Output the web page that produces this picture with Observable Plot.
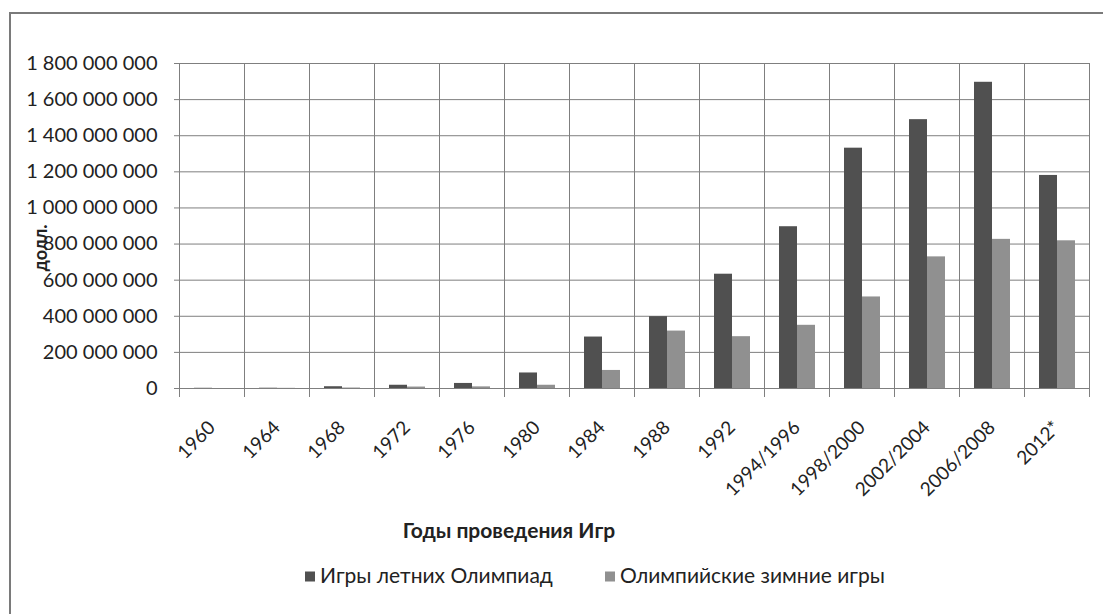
<!DOCTYPE html>
<html>
<head>
<meta charset="utf-8">
<script src="https://cdn.jsdelivr.net/npm/d3@7"></script>
<script src="https://cdn.jsdelivr.net/npm/@observablehq/plot@0.6"></script>
<style>
  html, body { margin: 0; padding: 0; background: #fff; }
  #wrap { position: relative; width: 1103px; height: 614px; overflow: hidden; font-family: Lato, "Open Sans", sans-serif; color: #222; }
  #border { position: absolute; left: 9px; top: 12px; width: 1200px; height: 700px; border-left: 2px solid #7a7a7a; border-top: 2px solid #7a7a7a; }
  #chart { position: absolute; left: 0; top: 0; }
  #ylabel { position: absolute; left: 40px; top: 248px; transform: translate(-50%, -50%) rotate(-90deg); font-weight: bold; font-size: 18px; white-space: nowrap; }
  #xtitle { position: absolute; left: 509px; top: 529px; transform: translate(-50%, -50%); font-weight: bold; font-size: 21px; white-space: nowrap; }
  .leg { position: absolute; top: 574px; transform: translateY(-50%); font-size: 21px; white-space: nowrap; display: flex; align-items: center; }
  .sw { display: inline-block; width: 10px; height: 10px; margin-right: 5px; margin-top: 4px; }
</style>
</head>
<body>
<div id="wrap">
  <div id="border"></div>
  <div id="chart"></div>
  <div id="ylabel"></div>
  <div id="xtitle"></div>
  <div id="leg1" class="leg" style="left:305px"></div>
  <div id="leg2" class="leg" style="left:605px"></div>
</div>
<script>
// Categories (years of the Games)
const categories = ["1960", "1964", "1968", "1972", "1976", "1980", "1984", "1988", "1992", "1994/1996", "1998/2000", "2002/2004", "2006/2008", "2012*"];
// Series names
const seriesNames = ["Игры летних Олимпиад", "Олимпийские зимние игры"];
// Values, USD
const summerValues = [1200000, 1600000, 9800000, 18000000, 28000000, 86000000, 285000000, 398000000, 633000000, 896000000, 1331000000, 1489000000, 1696000000, 1180000000];
const winterValues = [50000, 900000, 2600000, 8000000, 9000000, 18000000, 100000000, 318000000, 287000000, 350000000, 507000000, 729000000, 826000000, 818000000];
// Y tick values
const yTicks = [0, 200000000, 400000000, 600000000, 800000000, 1000000000, 1200000000, 1400000000, 1600000000, 1800000000];
const seriesColors = ["#505050", "#909090"];
const yTitle = "долл.";
const xTitle = "Годы проведения Игр";

const data = [];
categories.forEach((c, i) => {
  data.push({cat: c, series: seriesNames[0], value: summerValues[i]});
  data.push({cat: c, series: seriesNames[1], value: winterValues[i]});
});

const fmt = d3.formatLocale({decimal: ",", thousands: "\u00a0", grouping: [3], currency: ["", ""]}).format(",");
const gridColor = "#7f7f7f";

const chart = Plot.plot({
  width: 1103,
  height: 500,
  marginTop: 63,
  marginLeft: 175,
  marginRight: 10,
  marginBottom: 112,
  style: {fontFamily: "Lato, 'Open Sans', sans-serif", fontSize: "20px", color: "#222", background: "transparent", overflow: "visible"},
  fx: {domain: categories, paddingInner: 0, paddingOuter: 0, label: null, axis: null},
  x: {domain: seriesNames, paddingInner: 0, paddingOuter: 0.755, axis: null},
  y: {domain: [0, 1800000000], label: null, axis: null},
  color: {domain: seriesNames, range: seriesColors},
  marks: [
    Plot.gridY(yTicks, {stroke: gridColor, strokeOpacity: 1}),
    Plot.frame({anchor: "left", stroke: gridColor, insetBottom: -8}),
    Plot.frame({anchor: "right", stroke: gridColor, insetBottom: -8}),
    Plot.axisY(yTicks, {tickFormat: fmt, tickSize: 5, tickPadding: 17, stroke: gridColor, fill: "#222", fontSize: 20, label: null}),
    Plot.axisFx({anchor: "bottom", tickSize: 0, tickPadding: 36, tickRotate: -45, fontSize: 19, fill: "#222", label: null}),
    Plot.barY(data, {fx: "cat", x: "series", y: "value", fill: "series"}),
    Plot.ruleY([0], {stroke: gridColor})
  ]
});
document.getElementById("chart").appendChild(chart);
document.getElementById("ylabel").textContent = yTitle;
document.getElementById("xtitle").textContent = xTitle;
["leg1", "leg2"].forEach((id, i) => {
  const el = document.getElementById(id);
  const sw = document.createElement("span");
  sw.className = "sw";
  sw.style.background = seriesColors[i];
  el.appendChild(sw);
  el.appendChild(document.createTextNode(seriesNames[i]));
});
</script>
</body>
</html>
